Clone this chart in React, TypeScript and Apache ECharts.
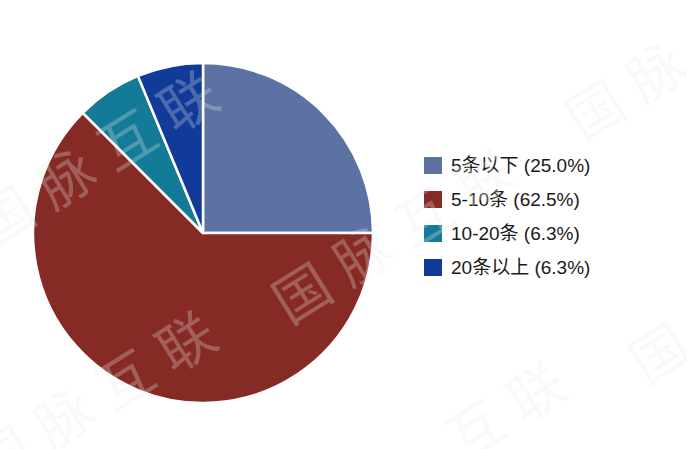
import React, { useEffect, useRef } from 'react';
import * as echarts from 'echarts';

// 数据
const categories = ['5条以下', '5-10条', '10-20条', '20条以上'];
const counts = [4, 10, 1, 1];
const colors = ['#5b72a3', '#862a25', '#137b98', '#123a98'];

// 水印 "国脉互联" 的起点（第一个字的中心）
const watermarkText = '国脉互联';
const watermarkStarts = [
  [3, 213],
  [300, 290],
  [593, 107],
  [1, 453],
  [351, 503],
  [657, 350],
];

const W = 687;
const H = 449;

const App: React.FC = () => {
  const chartRef = useRef<HTMLDivElement>(null);

  useEffect(() => {
    if (!chartRef.current) return;
    const chart = echarts.init(chartRef.current, undefined, { renderer: 'svg' });

    const total = counts.reduce((a, b) => a + b, 0);
    const percentOf = (name: string) => {
      const i = categories.indexOf(name);
      return ((counts[i] / total) * 100).toFixed(1);
    };

    // 水印字符逐个排列，画布外的字不画
    const angle = (32 * Math.PI) / 180;
    const step = 72;
    const watermarks: any[] = [];
    watermarkStarts.forEach(([x0, y0]) => {
      watermarkText.split('').forEach((ch, k) => {
        const x = x0 + k * step * Math.cos(angle);
        const y = y0 - k * step * Math.sin(angle);
        if (x < -10 || x > W + 10 || y < -10 || y > H + 10) return;
        watermarks.push({
          type: 'text',
          x,
          y,
          rotation: angle,
          z: 100,
          silent: true,
          style: {
            text: ch,
            fontSize: 56,
            fontFamily: 'Noto Sans CJK SC',
            fill: 'rgba(232,232,232,0.28)',
            align: 'center',
            verticalAlign: 'middle',
          },
        });
      });
    });

    chart.setOption({
      animation: false,
      color: colors,
      legend: {
        orient: 'vertical',
        left: 422,
        top: 155,
        padding: 0,
        itemWidth: 20,
        itemHeight: 19,
        itemGap: 13,
        icon: 'rect',
        data: categories,
        formatter: (name: string) => `${name} (${percentOf(name)}%)`,
        textStyle: {
          fontSize: 19,
          lineHeight: 21,
          color: '#1a1a1a',
          fontFamily: 'Liberation Sans, Noto Sans CJK SC, sans-serif',
          padding: [0, 0, 0, 3],
        },
      },
      graphic: watermarks,
      series: [
        {
          type: 'pie',
          center: [203, 233],
          radius: 170,
          startAngle: 90,
          clockwise: true,
          label: { show: false },
          labelLine: { show: false },
          emphasis: { disabled: true },
          itemStyle: { borderColor: '#ffffff', borderWidth: 2.5 },
          data: categories.map((name, i) => ({ name, value: counts[i] })),
        },
      ],
    });

    return () => {
      chart.dispose();
    };
  }, []);

  return (
    <div
      ref={chartRef}
      style={{ position: 'fixed', left: 0, top: 0, width: W, height: H, background: '#ffffff' }}
    />
  );
};

export default App;
